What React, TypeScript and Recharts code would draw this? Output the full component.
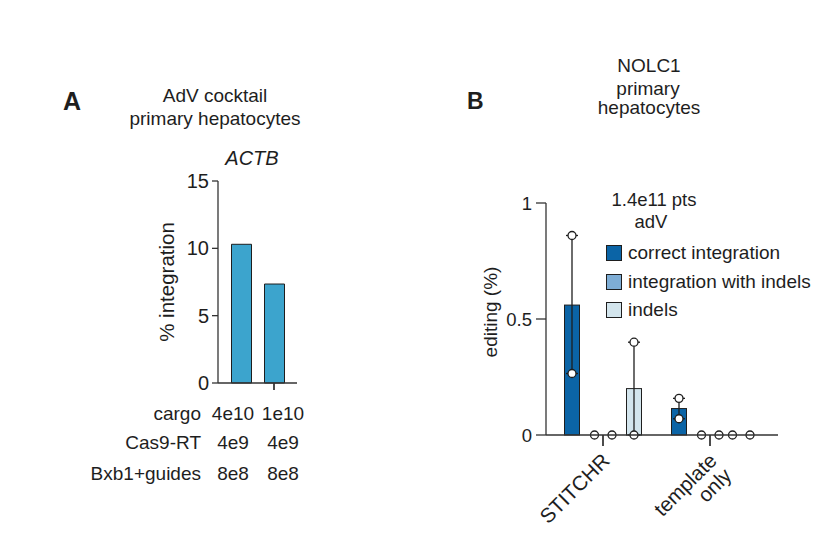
import { BarChart, Bar, XAxis, YAxis, Legend } from "recharts";

// panel A: ACTB integration, AdV cocktail
const actbCargo = ["4e10", "1e10"];
const actbCas9 = ["4e9", "4e9"];
const actbBxb1 = ["8e8", "8e8"];
const actbIntegration = [10.3, 7.35];
const actbTicks = [0, 5, 10, 15];

// panel B: NOLC1 editing
const nolcGroups = ["STITCHR", "template only"];
const seriesNames = ["correct integration", "integration with indels", "indels"];
const correctMean = [0.56, 0.114];
const correctReps = [
  [0.86, 0.265],
  [0.158, 0.07],
];
const withIndelsMean = [0, 0];
const withIndelsReps = [
  [0, 0],
  [0, 0],
];
const indelsMean = [0.2, 0];
const indelsReps = [
  [0.4, 0],
  [0, 0],
];
const nolcTicks = [0, 0.5, 1];

const FONT = "'Liberation Sans', Arial, Helvetica, sans-serif";
const INK = "#1e1e1e";
const AXIS = "#333";
const seriesColors = ["#0b64a6", "#7eadd5", "#d3e5ed"];
const tickLine = { stroke: AXIS, strokeWidth: 1.3 };

const actbData = actbCargo.map((c, i) => ({ name: c, value: actbIntegration[i] }));

const nolcData = nolcGroups.map((g, i) => ({
  name: g,
  correct: correctMean[i],
  correctReps: correctReps[i],
  withIndels: withIndelsMean[i],
  withIndelsReps: withIndelsReps[i],
  indels: indelsMean[i],
  indelsReps: indelsReps[i],
}));

// bar + range line + replicate dots, all from the bar's own scale
const makeShape = (dataKey: string, repsKey: string, fill: string) => (props: any) => {
  const { x, y, width, height, payload } = props;
  const mean = payload[dataKey];
  const reps: number[] = payload[repsKey];
  const base = y + height;
  const perUnit = mean > 0 ? height / mean : 0;
  const cx = x + width / 2;
  const toY = (v: number) => base - v * perUnit;
  const lo = Math.min(...reps);
  const hi = Math.max(...reps);
  const same = reps.every((r) => r === reps[0]);
  return (
    <g>
      {height > 0 && (
        <rect x={x} y={y} width={width} height={height} fill={fill} stroke={INK} strokeWidth={1} />
      )}
      {hi > lo && (
        <g stroke={INK} strokeWidth={1.3}>
          <line x1={cx} x2={cx} y1={toY(lo)} y2={toY(hi)} />
          <line x1={cx - 6} x2={cx + 6} y1={toY(hi)} y2={toY(hi)} />
          <line x1={cx - 6} x2={cx + 6} y1={toY(lo)} y2={toY(lo)} />
        </g>
      )}
      {reps.map((r, i) => (
        <circle
          key={i}
          cx={same ? cx + (i === 0 ? -8.5 : 9) : cx}
          cy={toY(r)}
          r={4}
          fill="#fff"
          stroke={INK}
          strokeWidth={1.3}
        />
      ))}
    </g>
  );
};

const NolcTick = (props: any) => {
  const { x, y, payload } = props;
  const lines = String(payload.value).split(" ");
  return (
    <g>
      <line x1={x} x2={x} y1={y - 13} y2={y - 2} stroke={AXIS} strokeWidth={1.3} />
      <g transform={`translate(${x + 8},${y + 14}) rotate(-45)`}>
        {lines.map((l, i) => (
          <text key={i} x={0} y={i * 21} textAnchor="end" fontSize={20.5} fill={INK}>
            {l}
          </text>
        ))}
      </g>
    </g>
  );
};

// tick mark only, the dose table sits below the axis
const ActbTick = (props: any) => {
  const { x, y } = props;
  return <line x1={x} x2={x} y1={y - 9} y2={y - 2} stroke={AXIS} strokeWidth={1.3} />;
};

const NolcLegend = () => (
  <div style={{ fontFamily: FONT, color: INK, fontSize: 18.5, lineHeight: "22px" }}>
    <div style={{ textAlign: "center", width: 96 }}>1.4e11 pts</div>
    <div style={{ textAlign: "center", width: 90 }}>adV</div>
    {seriesNames.map((n, i) => (
      <div key={n} style={{ display: "flex", alignItems: "center", height: 28.5, marginTop: i === 0 ? 6 : 0 }}>
        <span
          style={{
            width: 14,
            height: 14,
            background: seriesColors[i],
            border: `1.3px solid ${INK}`,
            marginRight: 6,
            display: "inline-block",
          }}
        />
        <span style={{ fontSize: 19, whiteSpace: "nowrap" }}>{n}</span>
      </div>
    ))}
  </div>
);

const tableRows: [string, string[], number][] = [
  ["cargo", actbCargo, 420],
  ["Cas9-RT", actbCas9, 449],
  ["Bxb1+guides", actbBxb1, 480],
];
const tableCols = [233, 283];

export default function App() {
  return (
    <div
      style={{
        position: "absolute",
        left: 0,
        top: 0,
        width: 835,
        height: 539,
        background: "#fff",
        fontFamily: FONT,
      }}
    >
      <div style={{ position: "absolute", left: 0, top: 0 }}>
        <BarChart
          width={835}
          height={539}
          data={actbData}
          margin={{ top: 181, right: 538, bottom: 126, left: 158 }}
        >
          <XAxis
            dataKey="name"
            tick={<ActbTick />}
            tickLine={tickLine}
            tickSize={7}
            tickMargin={2}
            stroke={AXIS}
            strokeWidth={1.3}
            padding={{ left: 6.5, right: 6.5 }}
          />
          <YAxis
            domain={[0, 15]}
            ticks={actbTicks}
            tickSize={6}
            tickMargin={3}
            stroke={AXIS}
            strokeWidth={1.3}
            tickLine={tickLine}
            tick={{ fill: INK, fontSize: 20 }}
          />
          <Bar dataKey="value" barSize={20} fill="#3ca4cd" stroke={INK} strokeWidth={1} isAnimationActive={false} />
        </BarChart>
      </div>

      <div style={{ position: "absolute", left: 0, top: 0 }}>
        <BarChart
          width={835}
          height={539}
          data={nolcData}
          barSize={15}
          barGap={16}
          margin={{ top: 203, right: 57, bottom: 74, left: 486 }}
        >
          <XAxis
            dataKey="name"
            interval={0}
            tick={<NolcTick />}
            tickLine={tickLine}
            tickSize={11}
            tickMargin={2}
            stroke={AXIS}
            strokeWidth={1.3}
            padding={{ left: 3.5, right: 14.5 }}
          />
          <YAxis
            domain={[0, 1]}
            ticks={nolcTicks}
            tickSize={10}
            tickMargin={4}
            stroke={AXIS}
            strokeWidth={1.3}
            tickLine={tickLine}
            tick={{ fill: INK, fontSize: 18.5 }}
          />
          <Legend
            layout="vertical"
            align="center"
            verticalAlign="middle"
            content={<NolcLegend />}
            wrapperStyle={{ left: 606, top: 189, width: 230 }}
          />
          <Bar dataKey="correct" shape={makeShape("correct", "correctReps", seriesColors[0])} isAnimationActive={false} />
          <Bar dataKey="withIndels" shape={makeShape("withIndels", "withIndelsReps", seriesColors[1])} isAnimationActive={false} />
          <Bar dataKey="indels" shape={makeShape("indels", "indelsReps", seriesColors[2])} isAnimationActive={false} />
        </BarChart>
      </div>

      <svg
        width={835}
        height={539}
        style={{ position: "absolute", left: 0, top: 0, pointerEvents: "none" }}
        fontFamily={FONT}
        fill={INK}
      >
        <text x={63} y={110} fontSize={25} fontWeight="bold">A</text>
        <text x={215} y={102} fontSize={19} textAnchor="middle">AdV cocktail</text>
        <text x={215} y={125} fontSize={19} textAnchor="middle">primary hepatocytes</text>
        <text x={252} y={165} fontSize={20} fontStyle="italic" textAnchor="middle">ACTB</text>
        <text transform="translate(174,282) rotate(-90)" fontSize={20.5} textAnchor="middle">% integration</text>
        {tableRows.map(([label, vals, yy]) => (
          <g key={label}>
            <text x={201} y={yy} fontSize={19} textAnchor="end">{label}</text>
            {vals.map((v, i) => (
              <text key={i} x={tableCols[i]} y={yy} fontSize={19} textAnchor="middle">{v}</text>
            ))}
          </g>
        ))}

        <text x={467} y={109} fontSize={23} fontWeight="bold">B</text>
        <text x={649} y={72} fontSize={19} textAnchor="middle">NOLC1</text>
        <text x={648} y={95} fontSize={19} textAnchor="middle">primary</text>
        <text x={649} y={114} fontSize={19} textAnchor="middle">hepatocytes</text>
        <text transform="translate(497,312) rotate(-90)" fontSize={19} textAnchor="middle">editing (%)</text>
      </svg>
    </div>
  );
}
